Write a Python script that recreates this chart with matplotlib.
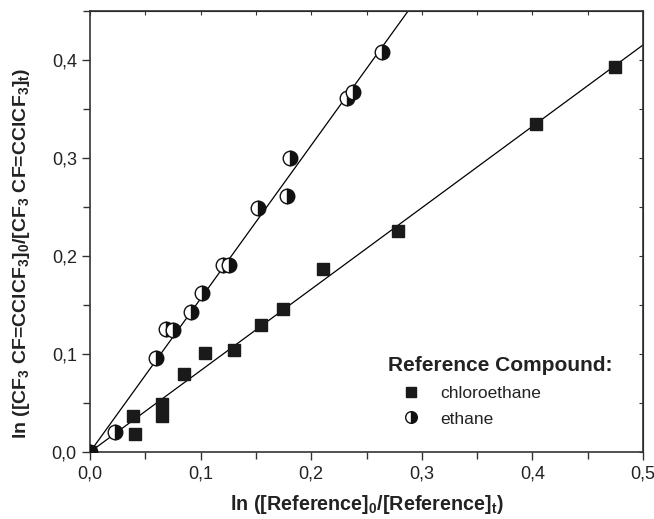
import numpy as np
import matplotlib
matplotlib.use("Agg")
import matplotlib.pyplot as plt
from matplotlib.ticker import MultipleLocator, FuncFormatter

plt.rcParams['font.family'] = ['Liberation Sans', 'DejaVu Sans']
plt.rcParams['mathtext.fontset'] = 'custom'
plt.rcParams['mathtext.rm'] = 'Liberation Sans:bold'
plt.rcParams['mathtext.it'] = 'Liberation Sans:bold'
plt.rcParams['mathtext.bf'] = 'Liberation Sans:bold'
plt.rcParams['mathtext.default'] = 'rm'

# chloroethane reference
chloro_x = [0.0, 0.0386, 0.0407, 0.0648, 0.0654, 0.085, 0.104, 0.1305, 0.1546, 0.1748, 0.211, 0.2788, 0.403, 0.475]
chloro_y = [0.0, 0.037, 0.0184, 0.037, 0.049, 0.0793, 0.1007, 0.104, 0.1296, 0.1456, 0.1864, 0.2258, 0.3347, 0.393]

# ethane reference
ethane_x = [0.0, 0.023, 0.060, 0.069, 0.075, 0.091, 0.101, 0.1206, 0.126, 0.152, 0.178, 0.181, 0.232, 0.238, 0.264]
ethane_y = [0.0, 0.0207, 0.0956, 0.126, 0.1245, 0.143, 0.162, 0.191, 0.191, 0.2487, 0.261, 0.300, 0.361, 0.367, 0.408]

def slope0(x, y):
    x = np.array(x); y = np.array(y)
    return (x * y).sum() / (x * x).sum()

fig = plt.figure(figsize=(6.54, 5.19), dpi=100)
ax = fig.add_axes([0.1376, 0.1291, 0.8456, 0.8497])

xx = np.array([0.0, 0.5])
ax.plot(xx, slope0(chloro_x, chloro_y) * xx, color='black', lw=0.9, zorder=2)
ax.plot(xx, slope0(ethane_x, ethane_y) * xx, color='black', lw=0.9, zorder=2)

ax.plot(chloro_x, chloro_y, ls='none', marker='s', ms=9, color='#1a1a1a',
        mec='#1a1a1a', label='chloroethane', zorder=3)
ax.plot(ethane_x, ethane_y, ls='none', marker='o', ms=10.5, fillstyle='right',
        mfc='#111111', mfcalt='white', mec='#111111', mew=1.0,
        label='ethane', zorder=3)

ax.set_xlim(0, 0.5)
ax.set_ylim(0, 0.45)
ax.xaxis.set_major_locator(MultipleLocator(0.1))
ax.xaxis.set_minor_locator(MultipleLocator(0.05))
ax.yaxis.set_major_locator(MultipleLocator(0.1))
ax.yaxis.set_minor_locator(MultipleLocator(0.05))
comma = FuncFormatter(lambda v, p: ('%.1f' % v).replace('.', ','))
ax.xaxis.set_major_formatter(comma)
ax.yaxis.set_major_formatter(comma)
ax.tick_params(which='both', direction='out', labelsize=13, width=1.0, color='#333333',
               labelcolor='#222222')
ax.tick_params(which='major', length=6)
ax.tick_params(which='minor', length=5)
for s in ax.spines.values():
    s.set_linewidth(1.2)
    s.set_color('#333333')

# inward ticks on top and right
top = ax.secondary_xaxis('top')
top.xaxis.set_major_locator(MultipleLocator(0.05))
top.tick_params(direction='in', length=3, labeltop=False, color='#333333')
right = ax.secondary_yaxis('right')
right.yaxis.set_major_locator(MultipleLocator(0.05))
right.tick_params(direction='in', length=3, labelright=False, color='#333333')

ax.set_xlabel('ln ([Reference]$_0$/[Reference]$_t$)', fontsize=14.2, fontweight='bold',
              labelpad=8, color='#222222')
ax.set_ylabel('ln ([CF$_3$ CF=CClCF$_3$]$_0$/[CF$_3$ CF=CClCF$_3$]$_t$)', fontsize=14,
              fontweight='bold', color='#222222')
ax.yaxis.set_label_coords(-0.105, 0.45)

ax.text(0.539, 0.197, 'Reference Compound:', transform=ax.transAxes, va='center',
        ha='left', fontsize=15, fontweight='bold', color='#222222')
leg = ax.legend(loc='upper left', bbox_to_anchor=(0.564, 0.15), frameon=False,
                fontsize=12.5, handletextpad=1.2, labelspacing=0.6, handlelength=1.0,
                borderpad=0, borderaxespad=0, markerscale=0.8)
for t in leg.get_texts():
    t.set_color('#222222')

fig.savefig('out.png', dpi=100)
